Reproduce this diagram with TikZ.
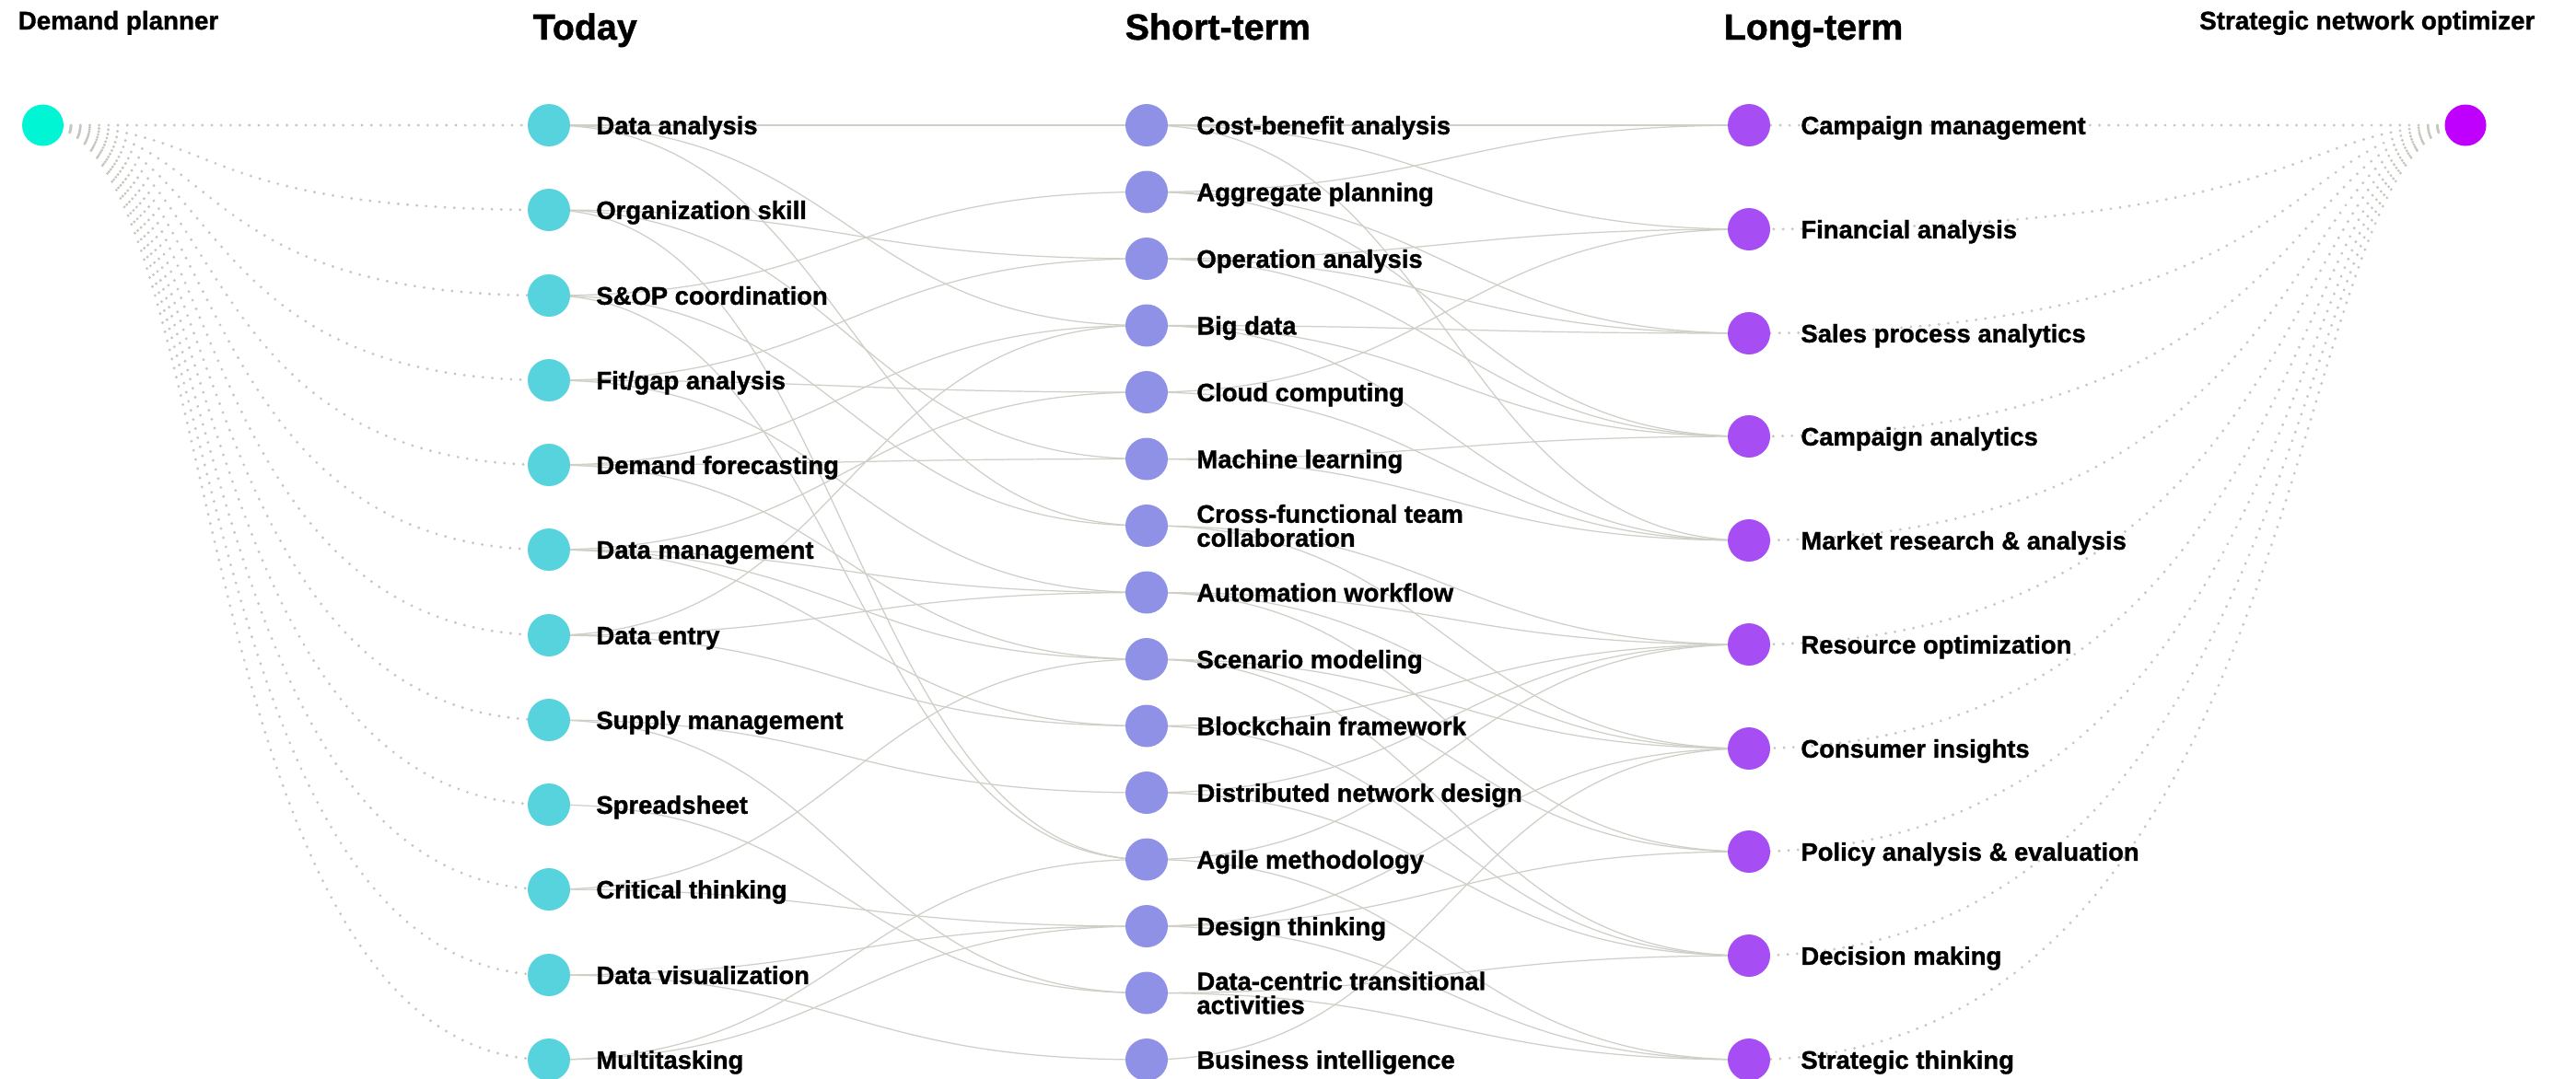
\documentclass[tikz,border=0pt]{standalone}
\usepackage{fontspec}
\setmainfont{Liberation Sans}[BoldFeatures={FakeBold=1.2}]
\usepackage{xcolor}
\usepackage{tikz}
\usetikzlibrary{positioning}
\definecolor{plannercol}{HTML}{00F5D4}
\definecolor{todaycol}{HTML}{57D3DD}
\definecolor{shortcol}{HTML}{8F91E7}
\definecolor{longcol}{HTML}{A64EF3}
\definecolor{optimcol}{HTML}{C000FF}
\definecolor{wirecol}{HTML}{CFCEC7}
\definecolor{dotcol}{HTML}{C6C6BE}
\pgfdeclarelayer{bg}
\pgfsetlayers{bg,main}
\tikzset{
    skill/.style = {circle, inner sep=0pt, minimum size=0.46cm},
    today_node/.style = {skill, fill=todaycol},
    short_node/.style = {skill, fill=shortcol},
    long_node/.style = {skill, fill=longcol},
    lbl/.style = {inner sep=0pt, text height=5.6pt, text depth=0pt, font=\bfseries\fontsize{7.8}{7.2}\selectfont},
    lbl2/.style = {inner sep=0pt, align=left, font=\bfseries\fontsize{7.8}{7.4}\selectfont},
    head/.style = {inner sep=0pt, anchor=base west, font=\bfseries\fontsize{11.2}{13}\selectfont},
    role/.style = {inner sep=0pt, font=\bfseries\fontsize{7.9}{9}\selectfont}
}
\tikzset{
    wire/.style = {draw=wirecol, line width=0.35pt},
    dots/.style = {draw=dotcol, line width=0.9pt, line cap=round, dash pattern=on 0pt off 2.9pt},
    link/.style = {to path={.. controls +(3.25,0) and +(-3.25,0) .. (\tikztotarget)}},
    fanleft/.style = {to path={.. controls +(2,0) and +(-4,0) .. (\tikztotarget)}},
    fanright/.style = {to path={.. controls +(-2,0) and +(6.28,0) .. (\tikztotarget)}}
}
\begin{document}
\begin{tikzpicture}
    \useasboundingbox (0,0) rectangle (27.97,-11.71);

    % headings
    \node[role, anchor=base west] (plannertitle) at (0.19,-0.32) {Demand planner};
    \node[role, anchor=base east] (optimtitle) at (27.53,-0.32) {Strategic network optimizer};
    \node[head] (today) at (5.78,-0.43) {Today};
    \node[head] (short) at (12.21,-0.43) {Short-term};
    \node[head] (long) at (18.71,-0.43) {Long-term};

    % end roles
    \node[skill, fill=plannercol, minimum size=0.45cm] (planner) at (0.465,-1.36) {};
    \node[skill, fill=optimcol, minimum size=0.45cm] (optim) at (26.77,-1.36) {};

    % today
    \node[today_node] (t1) at (5.96,-1.36) {};
    \node[today_node] (t2) at (5.96,-2.28) {};
    \node[today_node] (t3) at (5.96,-3.21) {};
    \node[today_node] (t4) at (5.96,-4.13) {};
    \node[today_node] (t5) at (5.96,-5.05) {};
    \node[today_node] (t6) at (5.96,-5.97) {};
    \node[today_node] (t7) at (5.96,-6.90) {};
    \node[today_node] (t8) at (5.96,-7.82) {};
    \node[today_node] (t9) at (5.96,-8.74) {};
    \node[today_node] (t10) at (5.96,-9.66) {};
    \node[today_node] (t11) at (5.96,-10.59) {};
    \node[today_node] (t12) at (5.96,-11.51) {};
    \node[lbl, right=0.27cm of t1] {Data analysis};
    \node[lbl, right=0.27cm of t2] {Organization skill};
    \node[lbl, right=0.27cm of t3] {S\&OP coordination};
    \node[lbl, right=0.27cm of t4] {Fit/gap analysis};
    \node[lbl, right=0.27cm of t5] {Demand forecasting};
    \node[lbl, right=0.27cm of t6] {Data management};
    \node[lbl, right=0.27cm of t7] {Data entry};
    \node[lbl, right=0.27cm of t8] {Supply management};
    \node[lbl, right=0.27cm of t9] {Spreadsheet};
    \node[lbl, right=0.27cm of t10] {Critical thinking};
    \node[lbl, right=0.27cm of t11] {Data visualization};
    \node[lbl, right=0.27cm of t12] {Multitasking};

    % short-term
    \node[short_node] (s1) at (12.45,-1.36) {};
    \node[short_node] (s2) at (12.45,-2.085) {};
    \node[short_node] (s3) at (12.45,-2.81) {};
    \node[short_node] (s4) at (12.45,-3.535) {};
    \node[short_node] (s5) at (12.45,-4.26) {};
    \node[short_node] (s6) at (12.45,-4.985) {};
    \node[short_node] (s7) at (12.45,-5.71) {};
    \node[short_node] (s8) at (12.45,-6.435) {};
    \node[short_node] (s9) at (12.45,-7.16) {};
    \node[short_node] (s10) at (12.45,-7.885) {};
    \node[short_node] (s11) at (12.45,-8.61) {};
    \node[short_node] (s12) at (12.45,-9.335) {};
    \node[short_node] (s13) at (12.45,-10.06) {};
    \node[short_node] (s14) at (12.45,-10.785) {};
    \node[short_node] (s15) at (12.45,-11.51) {};
    \node[lbl, right=0.3cm of s1] {Cost-benefit analysis};
    \node[lbl, right=0.3cm of s2] {Aggregate planning};
    \node[lbl, right=0.3cm of s3] {Operation analysis};
    \node[lbl, right=0.3cm of s4] {Big data};
    \node[lbl, right=0.3cm of s5] {Cloud computing};
    \node[lbl, right=0.3cm of s6] {Machine learning};
    \node[lbl2, right=0.3cm of s7] {Cross-functional team\\collaboration};
    \node[lbl, right=0.3cm of s8] {Automation workflow};
    \node[lbl, right=0.3cm of s9] {Scenario modeling};
    \node[lbl, right=0.3cm of s10] {Blockchain framework};
    \node[lbl, right=0.3cm of s11] {Distributed network design};
    \node[lbl, right=0.3cm of s12] {Agile methodology};
    \node[lbl, right=0.3cm of s13] {Design thinking};
    \node[lbl2, right=0.3cm of s14] {Data-centric transitional\\activities};
    \node[lbl, right=0.3cm of s15] {Business intelligence};

    % long-term
    \node[long_node] (l1) at (18.99,-1.36) {};
    \node[long_node] (l2) at (18.99,-2.49) {};
    \node[long_node] (l3) at (18.99,-3.62) {};
    \node[long_node] (l4) at (18.99,-4.74) {};
    \node[long_node] (l5) at (18.99,-5.87) {};
    \node[long_node] (l6) at (18.99,-7.00) {};
    \node[long_node] (l7) at (18.99,-8.13) {};
    \node[long_node] (l8) at (18.99,-9.25) {};
    \node[long_node] (l9) at (18.99,-10.38) {};
    \node[long_node] (l10) at (18.99,-11.51) {};
    \node[lbl, right=0.32cm of l1] {Campaign management};
    \node[lbl, right=0.32cm of l2] {Financial analysis};
    \node[lbl, right=0.32cm of l3] {Sales process analytics};
    \node[lbl, right=0.32cm of l4] {Campaign analytics};
    \node[lbl, right=0.32cm of l5] {Market research \& analysis};
    \node[lbl, right=0.32cm of l6] {Resource optimization};
    \node[lbl, right=0.32cm of l7] {Consumer insights};
    \node[lbl, right=0.32cm of l8] {Policy analysis \& evaluation};
    \node[lbl, right=0.32cm of l9] {Decision making};
    \node[lbl, right=0.32cm of l10] {Strategic thinking};

    \begin{pgfonlayer}{bg}
        \fill[white] (0,0) rectangle (27.97,-11.71);
        % dotted fans from the two roles
        \foreach \t in {t1,t2,t3,t4,t5,t6,t7,t8,t9,t10,t11,t12}
            \draw[dots, fanleft] (planner.center) to (\t.center);
        \foreach \l in {l1,l2,l3,l4,l5,l6,l7,l8,l9,l10}
            \draw[dots, fanright] (optim.center) to (\l.center);
        % today -> short-term
        \foreach \a/\b in {t1/s1, t1/s4, t1/s7, t2/s3, t2/s6, t2/s12, t3/s2, t3/s7, t3/s12,
                t4/s3, t4/s5, t4/s8, t5/s6, t5/s4, t5/s9, t6/s8, t6/s5, t6/s9, t6/s10,
                t7/s8, t7/s4, t7/s10, t8/s11, t8/s14, t9/s14, t10/s13, t10/s9,
                t11/s13, t11/s15, t12/s12, t12/s13}
            \draw[wire, link] (\a.center) to (\b.center);
        % short-term -> long-term
        \foreach \a/\b in {s1/l1, s1/l2, s1/l5, s2/l1, s2/l3, s2/l4, s3/l2, s3/l3, s3/l4,
                s4/l3, s4/l4, s4/l5, s5/l2, s5/l5, s6/l4, s6/l5, s7/l6, s7/l7,
                s8/l6, s8/l7, s8/l8, s9/l7, s9/l8, s9/l9, s10/l6, s10/l9, s11/l6, s11/l9,
                s12/l6, s12/l10, s13/l7, s13/l8, s13/l10, s14/l9, s14/l10, s15/l7}
            \draw[wire, link] (\a.center) to (\b.center);
    \end{pgfonlayer}
\end{tikzpicture}
\end{document}
